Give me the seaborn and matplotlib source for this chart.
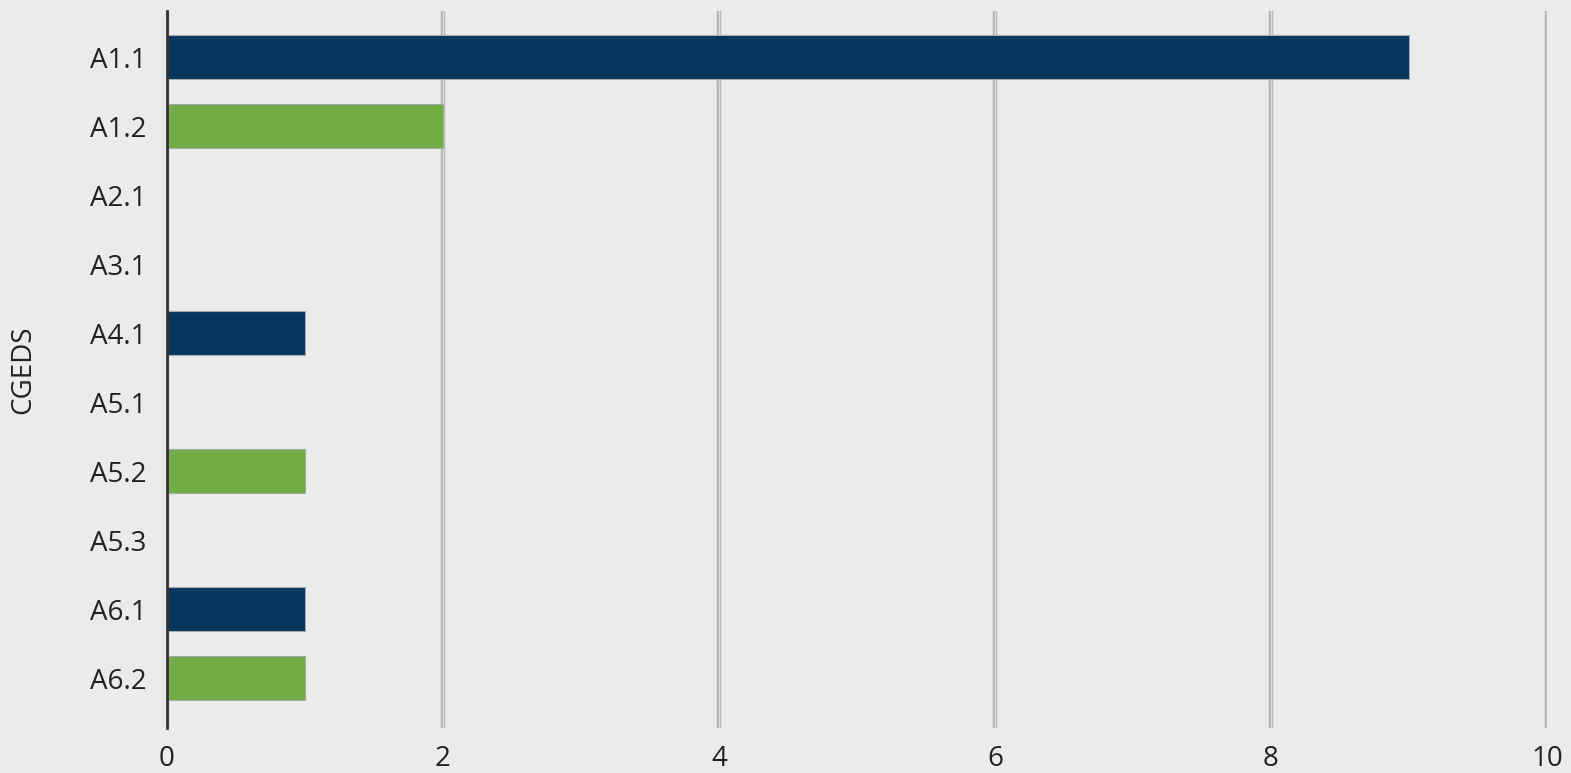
import matplotlib
matplotlib.use("Agg")
import matplotlib.pyplot as plt
import matplotlib.patheffects as pe
import seaborn as sns
import pandas as pd

# data
codes = ["A1.1", "A1.2", "A2.1", "A3.1", "A4.1", "A5.1", "A5.2", "A5.3", "A6.1", "A6.2"]
counts = [9, 2, 0, 0, 1, 0, 1, 0, 1, 1]
navy = "#08365f"
green = "#70ad47"
bar_colors = {c: (green if c.endswith(".2") else navy) for c in codes}

bg = "#ebebeb"
df = pd.DataFrame({"code": codes, "count": counts})

sns.set_theme(style="white")
plt.rcParams["font.family"] = ["Open Sans", "DejaVu Sans"]

fig = plt.figure(figsize=(15.71, 7.73), dpi=100, facecolor=bg)
ax = fig.add_axes([167 / 1571, 1 - 728 / 773, 1380 / 1571, 717 / 773])
ax.set_facecolor(bg)

sns.barplot(data=df, y="code", x="count", hue="code", palette=bar_colors,
            order=codes, orient="h", width=0.64, legend=False, ax=ax,
            saturation=1, edgecolor="#a8a8a8", linewidth=0.8)

ax.set_xlim(0, 10)
ax.set_ylim(9.72, -0.67)
ax.set_xticks(range(0, 11, 2))

# double-looking vertical grid lines
ax.grid(axis="x", color="#dcdcdc", linewidth=1.0)
for gl in ax.get_xgridlines():
    gl.set_path_effects([pe.Stroke(linewidth=3.2, foreground="#b4b4b4"), pe.Normal()])
ax.grid(axis="y", visible=False)
ax.set_axisbelow(True)

for s in ["top", "right", "bottom"]:
    ax.spines[s].set_visible(False)
ax.spines["left"].set_color("#333333")
ax.spines["left"].set_linewidth(2.0)
ax.spines["left"].set_zorder(5)

ax.tick_params(axis="both", length=0, labelsize=20, colors="#222222")
ax.tick_params(axis="x", pad=12)
ax.tick_params(axis="y", pad=15)
ax.set_xlabel("")
ax.set_ylabel("CGEDS", fontsize=20, color="#222222", labelpad=38)

fig.savefig("out.png", dpi=100, facecolor=bg)
